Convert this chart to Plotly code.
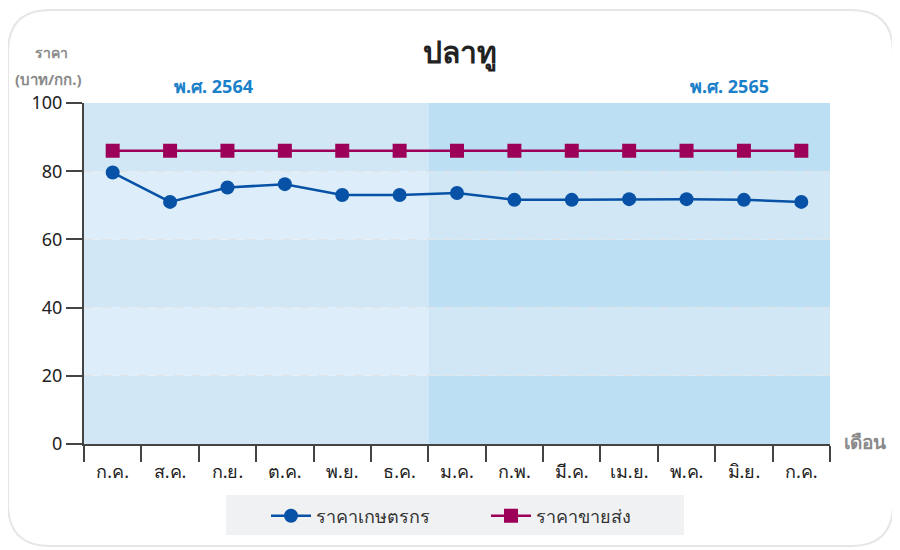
import plotly.graph_objects as go

months = ["ก.ค.", "ส.ค.", "ก.ย.", "ต.ค.", "พ.ย.", "ธ.ค.", "ม.ค.", "ก.พ.", "มี.ค.", "เม.ย.", "พ.ค.", "มิ.ย.", "ก.ค."]
farmer_price = [79.6, 71.0, 75.2, 76.2, 73.0, 73.0, 73.6, 71.6, 71.6, 71.8, 71.8, 71.6, 71.0]
wholesale_price = [86, 86, 86, 86, 86, 86, 86, 86, 86, 86, 86, 86, 86]
y_ticks = [0, 20, 40, 60, 80, 100]
year_labels = ["พ.ศ. 2564", "พ.ศ. 2565"]

OFF = 8  # page body margin
W, H = 900 - OFF, 550 - OFF
# plot area in page pixels: x 84..830, y 103..444
ML, MT = 84 - OFF, 103 - OFF
MR = W - (830 - OFF)
MB = H - (444 - OFF)
PW, PH = W - ML - MR, H - MT - MB


def px(x):
    return (x - OFF - ML) / PW


def py(y):
    return (H - MB - (y - OFF)) / PH


x_idx = list(range(len(months)))
split = 5.5  # boundary between the two years

fig = go.Figure()

fig.add_trace(go.Scatter(
    x=x_idx, y=farmer_price, name="ราคาเกษตรกร", mode="lines+markers",
    line=dict(color="#0752a6", width=2.5),
    marker=dict(symbol="circle", size=14, color="#0752a6"),
))
fig.add_trace(go.Scatter(
    x=x_idx, y=wholesale_price, name="ราคาขายส่ง", mode="lines+markers",
    line=dict(color="#9c0058", width=2.5),
    marker=dict(symbol="square", size=14, color="#9c0058"),
))

shapes = []
left_dark, left_light = "#d1e7f6", "#ddeefa"
right_dark, right_light = "#bcdff4", "#d1e7f6"
for i in range(len(y_ticks) - 1):
    y0, y1 = y_ticks[i], y_ticks[i + 1]
    dark = (i % 2 == 0)
    shapes.append(dict(type="rect", xref="x", yref="y", x0=-0.5, x1=split, y0=y0, y1=y1,
                       fillcolor=left_dark if dark else left_light, line=dict(width=0), layer="below"))
    shapes.append(dict(type="rect", xref="x", yref="y", x0=split, x1=len(months) - 0.5, y0=y0, y1=y1,
                       fillcolor=right_dark if dark else right_light, line=dict(width=0), layer="below"))

# card outline
x0c, x1c, y0c, y1c, r = 8, 893, 10, 546, 42
path = (f"M {px(x0c + r)},{py(y0c)} L {px(x1c - r)},{py(y0c)} "
        f"Q {px(x1c)},{py(y0c)} {px(x1c)},{py(y0c + r)} "
        f"L {px(x1c)},{py(y1c - r)} Q {px(x1c)},{py(y1c)} {px(x1c - r)},{py(y1c)} "
        f"L {px(x0c + r)},{py(y1c)} Q {px(x0c)},{py(y1c)} {px(x0c)},{py(y1c - r)} "
        f"L {px(x0c)},{py(y0c + r)} Q {px(x0c)},{py(y0c)} {px(x0c + r)},{py(y0c)} Z")
shapes.append(dict(type="path", xref="paper", yref="paper", path=path,
                   line=dict(color="#e6e6e6", width=2), fillcolor="rgba(0,0,0,0)", layer="below"))

# legend background
shapes.append(dict(type="rect", xref="paper", yref="paper", x0=px(226), x1=px(684), y0=py(535), y1=py(495),
                   fillcolor="#f0f1f3", line=dict(width=0), layer="below"))

annotations = [
    dict(text="<b>ปลาทู</b>", x=px(460), y=py(52), xref="paper", yref="paper", showarrow=False,
         font=dict(size=30, color="#222222"), xanchor="center", yanchor="middle"),
    dict(text="<b>ราคา</b>", x=px(51), y=py(53), xref="paper", yref="paper", showarrow=False,
         font=dict(size=14, color="#8a8a8a"), xanchor="center", yanchor="middle"),
    dict(text="<b>(บาท/กก.)</b>", x=px(48), y=py(79), xref="paper", yref="paper", showarrow=False,
         font=dict(size=15, color="#8a8a8a"), xanchor="center", yanchor="middle"),
    dict(text=f"<b>{year_labels[0]}</b>", x=px(213), y=py(86), xref="paper", yref="paper", showarrow=False,
         font=dict(size=18, color="#1a80c9"), xanchor="center", yanchor="middle"),
    dict(text=f"<b>{year_labels[1]}</b>", x=px(729), y=py(86), xref="paper", yref="paper", showarrow=False,
         font=dict(size=18, color="#1a80c9"), xanchor="center", yanchor="middle"),
    dict(text="<b>เดือน</b>", x=px(865), y=py(442), xref="paper", yref="paper", showarrow=False,
         font=dict(size=19, color="#8a8a8a"), xanchor="center", yanchor="middle"),
]

fig.update_layout(
    width=W, height=H,
    margin=dict(l=ML, r=MR, t=MT, b=MB, autoexpand=False),
    paper_bgcolor="white", plot_bgcolor="rgba(0,0,0,0)",
    font=dict(family="Noto Sans, Tahoma, sans-serif", color="#222222"),
    shapes=shapes, annotations=annotations,
    showlegend=True,
    legend=dict(orientation="h", x=px(266), y=py(516), xanchor="left", yanchor="middle",
                bgcolor="rgba(0,0,0,0)", font=dict(size=18, color="#333333"),
                entrywidth=165, itemwidth=40),
)

fig.update_xaxes(
    range=[-0.5, len(months) - 0.5],
    tickvals=x_idx, ticktext=months, ticks="outside", ticklen=10, tickcolor="rgba(0,0,0,0)",
    tickfont=dict(size=18, color="#222222"),
    showline=True, linecolor="#444444", linewidth=2,
    showgrid=False, zeroline=False,
    minor=dict(tickvals=[i - 0.5 for i in range(len(months) + 1)], ticks="outside",
               ticklen=16, tickcolor="#444444", tickwidth=1.5, showgrid=False),
)
fig.update_yaxes(
    range=[0, 100], tickvals=y_ticks, ticks="outside", ticklen=16, tickcolor="#444444", tickwidth=1.5,
    tickfont=dict(size=18, color="#222222"),
    showline=True, linecolor="#444444", linewidth=2,
    showgrid=True, gridcolor="#e3e3e3", griddash="dash", gridwidth=1,
    zeroline=False,
)

fig.write_html("out.html")
